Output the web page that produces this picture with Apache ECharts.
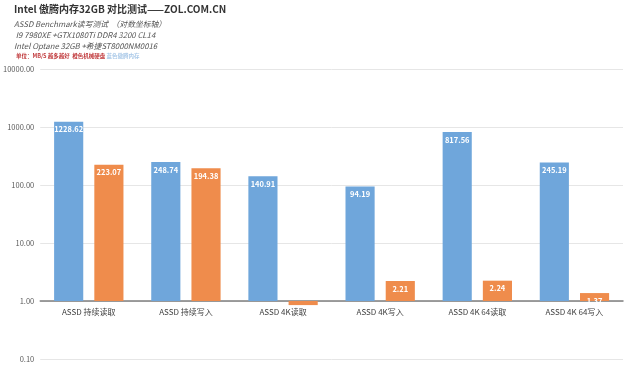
<!DOCTYPE html>
<html>
<head>
<meta charset="utf-8">
<script src="https://cdn.jsdelivr.net/npm/echarts@6/dist/echarts.min.js"></script>
<style>
  html, body { margin: 0; padding: 0; background: #fff; }
  #container { width: 640px; height: 376px; }
</style>
</head>
<body>
<div id="container"></div>
<script>
// data
var categories = ['ASSD 持续读取', 'ASSD 持续写入', 'ASSD 4K读取', 'ASSD 4K写入', 'ASSD 4K 64读取', 'ASSD 4K 64写入'];
var optaneValues = [1228.62, 248.74, 140.91, 94.19, 817.56, 245.19]; // 蓝色 傲腾内存
var hddValues = [223.07, 194.38, 0.85, 2.21, 2.24, 1.37];           // 橙色 机械硬盘
var yTicks = [0.1, 1, 10, 100, 1000, 10000];

var FONT = '"Noto Sans CJK SC", "Noto Sans", sans-serif';

var dom = document.getElementById('container');
var myChart = echarts.init(dom, null, { renderer: 'canvas' });

var barLabel = {
    show: true,
    position: 'insideTop',
    distance: 4,
    color: '#fff',
    fontSize: 7.5,
    fontWeight: 'bold',
    fontFamily: FONT,
    formatter: function (p) {
        return p.value >= 1 ? p.value.toFixed(2) : '';
    }
};

var option = {
    animation: false,
    title: [
        {
            text: 'Intel 傲腾内存32GB 对比测试——ZOL.COM.CN',
            left: 14, top: 4, padding: 0,
            textStyle: { fontSize: 10, fontWeight: 'bold', color: '#333', fontFamily: FONT }
        },
        {
            text: 'ASSD Benchmark读写测试  （对数坐标轴）\n I9 7980XE +GTX1080Ti DDR4 3200 CL14\nIntel Optane 32GB +希捷ST8000NM0016',
            left: 14, top: 19, padding: 0,
            textStyle: { fontSize: 7.8, fontStyle: 'italic', fontWeight: 'normal', color: '#555', lineHeight: 11, fontFamily: FONT }
        },
        {
            text: '{r|单位：MB/S 越多越好  橙色机械硬盘} {b|蓝色傲腾内存}',
            left: 16, top: 53, padding: 0,
            textStyle: {
                fontSize: 5.5, fontFamily: FONT,
                rich: {
                    r: { color: '#c0393b', fontSize: 5.5, fontFamily: FONT },
                    b: { color: '#a8c8e8', fontSize: 5.5, fontFamily: FONT }
                }
            }
        }
    ],
    grid: { left: 37, right: 17, top: 69, bottom: 17, containLabel: false },
    xAxis: {
        type: 'category',
        data: categories,
        position: 'bottom',
        offset: -58,
        axisLine: { show: true, lineStyle: { color: '#7f7f7f', width: 1.5 } },
        axisTick: { show: false },
        axisLabel: { color: '#404040', fontSize: 8, fontFamily: FONT, margin: 7 }
    },
    yAxis: {
        type: 'log',
        logBase: 10,
        min: 0.1,
        max: 10000,
        axisLine: { show: false },
        axisTick: { show: false },
        splitLine: { show: true, lineStyle: { color: '#e6e6e6', width: 1 } },
        axisLabel: {
            color: '#595959', fontSize: 7.5, fontFamily: FONT, margin: 6,
            formatter: function (v) {
                var t = yTicks.find(function (x) { return Math.abs(x - v) / x < 1e-6; });
                return (t !== undefined ? t : v).toFixed(2);
            }
        }
    },
    series: [
        {
            name: '傲腾内存',
            type: 'bar',
            data: optaneValues,
            barWidth: '30%',
            barGap: '38%',
            itemStyle: { color: '#6fa6db' },
            label: barLabel
        },
        {
            name: '机械硬盘',
            type: 'bar',
            data: hddValues,
            barWidth: '30%',
            itemStyle: { color: '#ef8c4c' },
            label: barLabel
        }
    ]
};

myChart.setOption(option);
window.addEventListener('resize', myChart.resize);
</script>
</body>
</html>
